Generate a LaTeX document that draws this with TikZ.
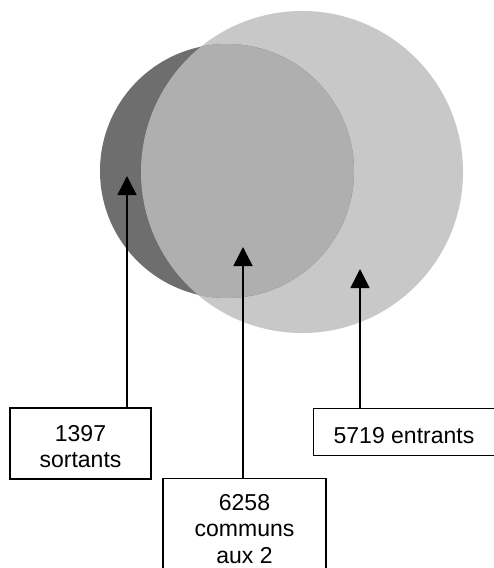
\documentclass[tikz,border=0pt]{standalone}
\usepackage{fontspec}
\setmainfont{Liberation Sans}
\usetikzlibrary{arrows.meta}
\definecolor{outgray}{HTML}{6E6E6E}
\definecolor{ingray}{HTML}{C8C8C8}
\definecolor{bothgray}{HTML}{AFAFAF}
\tikzset{
  labelbox/.style={draw=black, line width=1.4pt, fill=white, inner sep=0pt, rectangle},
  labeltext/.style={align=center, inner sep=0pt, anchor=north,
    font=\fontsize{23}{26.5}\selectfont},
  pointer/.style={-{Triangle[width=19pt,length=19pt]}, line width=1.5pt, black}
}
\begin{document}
\begin{tikzpicture}[x=1pt,y=-1pt]
  % page frame
  \clip (0,0) rectangle (494,568);
  \fill[white] (0,0) rectangle (494,568);

  % the two sets and their overlap
  \fill[ingray] (302,172) circle (161);
  \fill[outgray] (227,171) circle (127);
  \begin{scope}
    \clip (302,172) circle (161);
    \fill[bothgray] (227,171) circle (127);
  \end{scope}

  % targets of the pointers
  \coordinate (tout) at (127,176);
  \coordinate (tboth) at (243,247);
  \coordinate (tin) at (360,269);

  % label boxes
  \node[labelbox, minimum width=141pt, minimum height=71pt] (bout) at (80.5,443.5) {};
  \node[labelbox, minimum width=200pt, minimum height=47pt, anchor=west] (bin) at (313,432) {};
  \node[labelbox, minimum width=163pt, minimum height=120pt, anchor=north] (bboth) at (244.5,478) {};

  % label texts
  \node[labeltext] (lout) at (80.5,425) {1397\\sortants};
  \node[labeltext] (lin) at (404,427.5) {5719 entrants};
  \node[labeltext] (lboth) at (244.5,494) {6258\\communs\\aux 2};

  % pointers
  \draw[pointer] (bout.north -| tout) -- (tout);
  \draw[pointer] (bboth.north -| tboth) -- (tboth);
  \draw[pointer] (bin.north -| tin) -- (tin);
\end{tikzpicture}
\end{document}
